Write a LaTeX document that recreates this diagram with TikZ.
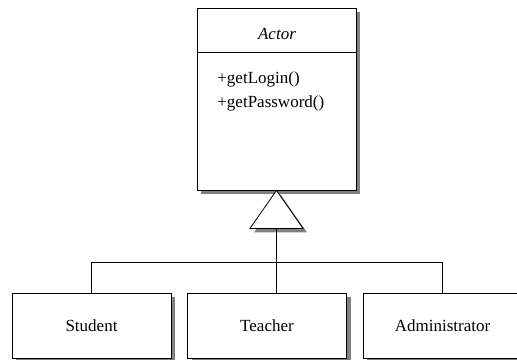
\documentclass[tikz,border=0pt]{standalone}
\usepackage{fontspec}
\setmainfont{Liberation Serif}
\usetikzlibrary{shadows}

\begin{document}
\begin{tikzpicture}[x=1pt, y=-1pt, line width=0.8pt,
  font=\fontsize{17}{20}\selectfont,
  umlshadow/.style={drop shadow={shadow xshift=4pt, shadow yshift=-4pt, fill=black!50, opacity=1}},
  classbox/.style={draw, fill=white, umlshadow, minimum width=159pt, inner sep=0pt}]
  \clip (0,0) rectangle (517,359);
  \node[classbox, minimum height=182pt] (actor) at (276.5,99) {};
  \node[classbox, minimum height=65pt] (student) at (91.5,325.5) {Student};
  \node[classbox, minimum height=65pt] (teacher) at (267,325.5) {Teacher};
  \node[classbox, minimum height=65pt] (admin) at (442.5,325.5) {Administrator};
  \node[anchor=base] (actorname) at (277,39) {\textit{Actor}};
  \node[anchor=base west, inner sep=0pt] (login) at (217,83) {+getLogin()};
  \node[anchor=base west, inner sep=0pt] (password) at (217,107) {+getPassword()};
  \draw (actor.west |- 0,52) -- (actor.east |- 0,52);
  \draw[fill=white, umlshadow] (actor.south) -- ++(26.5,38) -- ++(-53,0) -- cycle;
  \coordinate (tribase) at ([yshift=-38pt]actor.south);
  \draw (tribase) -- (tribase |- teacher.north);
  \draw (student.north) -- ++(0,-30) -| (admin.north);
\end{tikzpicture}
\end{document}
